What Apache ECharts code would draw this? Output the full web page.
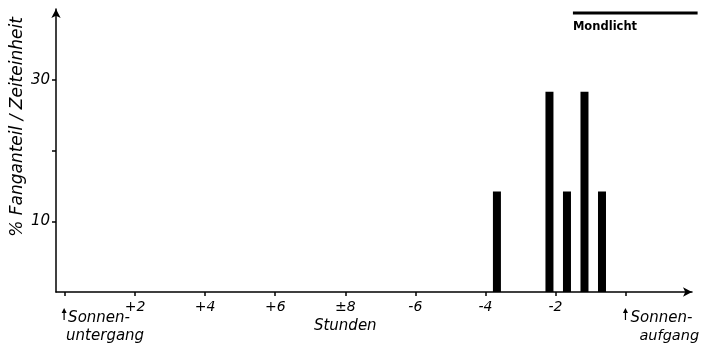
<!DOCTYPE html>
<html>
<head>
<meta charset="utf-8">
<script src="https://cdn.jsdelivr.net/npm/echarts@6/dist/echarts.min.js"></script>
<style>
  html, body { margin: 0; padding: 0; background: #fff; }
  #chart { width: 709px; height: 359px; }
</style>
</head>
<body>
<div id="chart"></div>
<script>
// Hours after sunset (0 = Sonnenuntergang, 16 = Sonnenaufgang)
const binHours = [12.33, 13.83, 14.33, 14.83, 15.33];
// Catch share per time unit, in %
const catchShare = [14.2, 28.3, 14.2, 28.3, 14.2];
// Tick positions and their labels on the hour axis
const hourTicks = [0, 2, 4, 6, 8, 10, 12, 14, 16];
const hourLabelValues = [2, 4, 6, 8, 10, 12, 14];
const hourLabelTexts = ['+2', '+4', '+6', '\u00b18', '-6', '-4', '-2'];
// Percent axis ticks and labels
const pctTicks = [10, 20, 30];
const pctLabels = [10, 30];
// Moonlight period (hours after sunset)
const moonlight = [14.5, 18.06];

const FONT = 'DejaVu Sans';
const chart = echarts.init(document.getElementById('chart'), null, { renderer: 'canvas' });

const option = {
  animation: false,
  backgroundColor: '#fff',
  grid: { left: 56, right: 17, top: 9, bottom: 67 },
  xAxis: {
    type: 'value',
    min: -0.26,
    max: 17.9,
    splitLine: { show: false },
    axisLine: {
      show: true,
      onZero: false,
      lineStyle: { color: '#000', width: 1.5 },
      symbol: ['none', 'arrow'],
      symbolSize: [7, 9]
    },
    axisTick: {
      show: true,
      customValues: hourTicks,
      length: 4,
      inside: false,
      lineStyle: { color: '#000', width: 1.5 }
    },
    axisLabel: {
      customValues: hourLabelValues,
      formatter: v => hourLabelTexts[hourLabelValues.indexOf(v)] || '',
      color: '#000',
      fontFamily: FONT,
      fontStyle: 'italic',
      fontSize: 14,
      margin: 8
    }
  },
  yAxis: {
    type: 'value',
    min: 0,
    max: 40,
    splitLine: { show: false },
    axisLine: {
      show: true,
      onZero: false,
      lineStyle: { color: '#000', width: 1.5 },
      symbol: ['none', 'arrow'],
      symbolSize: [7, 9]
    },
    axisTick: {
      show: true,
      customValues: pctTicks,
      length: 4,
      lineStyle: { color: '#000', width: 1.5 }
    },
    axisLabel: {
      customValues: pctLabels,
      color: '#000',
      fontFamily: FONT,
      fontStyle: 'italic',
      fontSize: 15,
      margin: 6
    }
  },
  series: [{
    type: 'bar',
    data: binHours.map((h, i) => [h, catchShare[i]]),
    barWidth: 8,
    itemStyle: { color: '#000' }
  }]
};
chart.setOption(option);

// Annotations: axis captions, sunset/sunrise markers and the moonlight bar
const toPx = v => chart.convertToPixel({ xAxisIndex: 0, yAxisIndex: 0 }, [v, 0]);
const zero = toPx(0);
const rise = toPx(16);
const moonA = toPx(moonlight[0]);
const moonB = toPx(moonlight[1]);
const mid = toPx(8);
const base = zero[1];

const txt = (x, y, text, extra) => ({
  type: 'text', x, y,
  style: Object.assign({
    text, fill: '#000', font: 'italic 15px "' + FONT + '"',
    textAlign: 'left', textVerticalAlign: 'middle'
  }, extra || {})
});

// small upward arrow marking sunset / sunrise
const upArrow = x => ([
  { type: 'line', shape: { x1: x, y1: base + 28, x2: x, y2: base + 18 },
    style: { stroke: '#000', lineWidth: 1.2 } },
  { type: 'polygon', shape: { points: [[x - 2.5, base + 21], [x + 2.5, base + 21], [x, base + 16]] },
    style: { fill: '#000' } }
]);

chart.setOption({
  graphic: [
    // y-axis title
    {
      type: 'text', x: 18, y: 127, rotation: Math.PI / 2,
      style: {
        text: '% Fanganteil / Zeiteinheit', fill: '#000',
        font: 'italic 17px "' + FONT + '"',
        textAlign: 'center', textVerticalAlign: 'middle'
      }
    },
    // hour caption
    txt(mid[0], base + 34, 'Stunden', { textAlign: 'center' }),
    // sunset
    ...upArrow(zero[0] - 1),
    txt(zero[0] + 3, base + 26, 'Sonnen-'),
    txt(zero[0] + 1, base + 44, 'untergang'),
    // sunrise
    ...upArrow(rise[0]),
    txt(rise[0] + 5, base + 26, 'Sonnen-'),
    txt(rise[0] + 14, base + 44, 'aufgang', { font: 'italic 14.5px "' + FONT + '"' }),
    // moonlight bar
    {
      type: 'line',
      shape: { x1: moonA[0], y1: 13, x2: moonB[0], y2: 13 },
      style: { stroke: '#000', lineWidth: 3 }
    },
    txt(moonA[0], 27, 'Mondlicht', { font: 'bold 11.5px "' + FONT + '"' })
  ]
});
</script>
</body>
</html>
